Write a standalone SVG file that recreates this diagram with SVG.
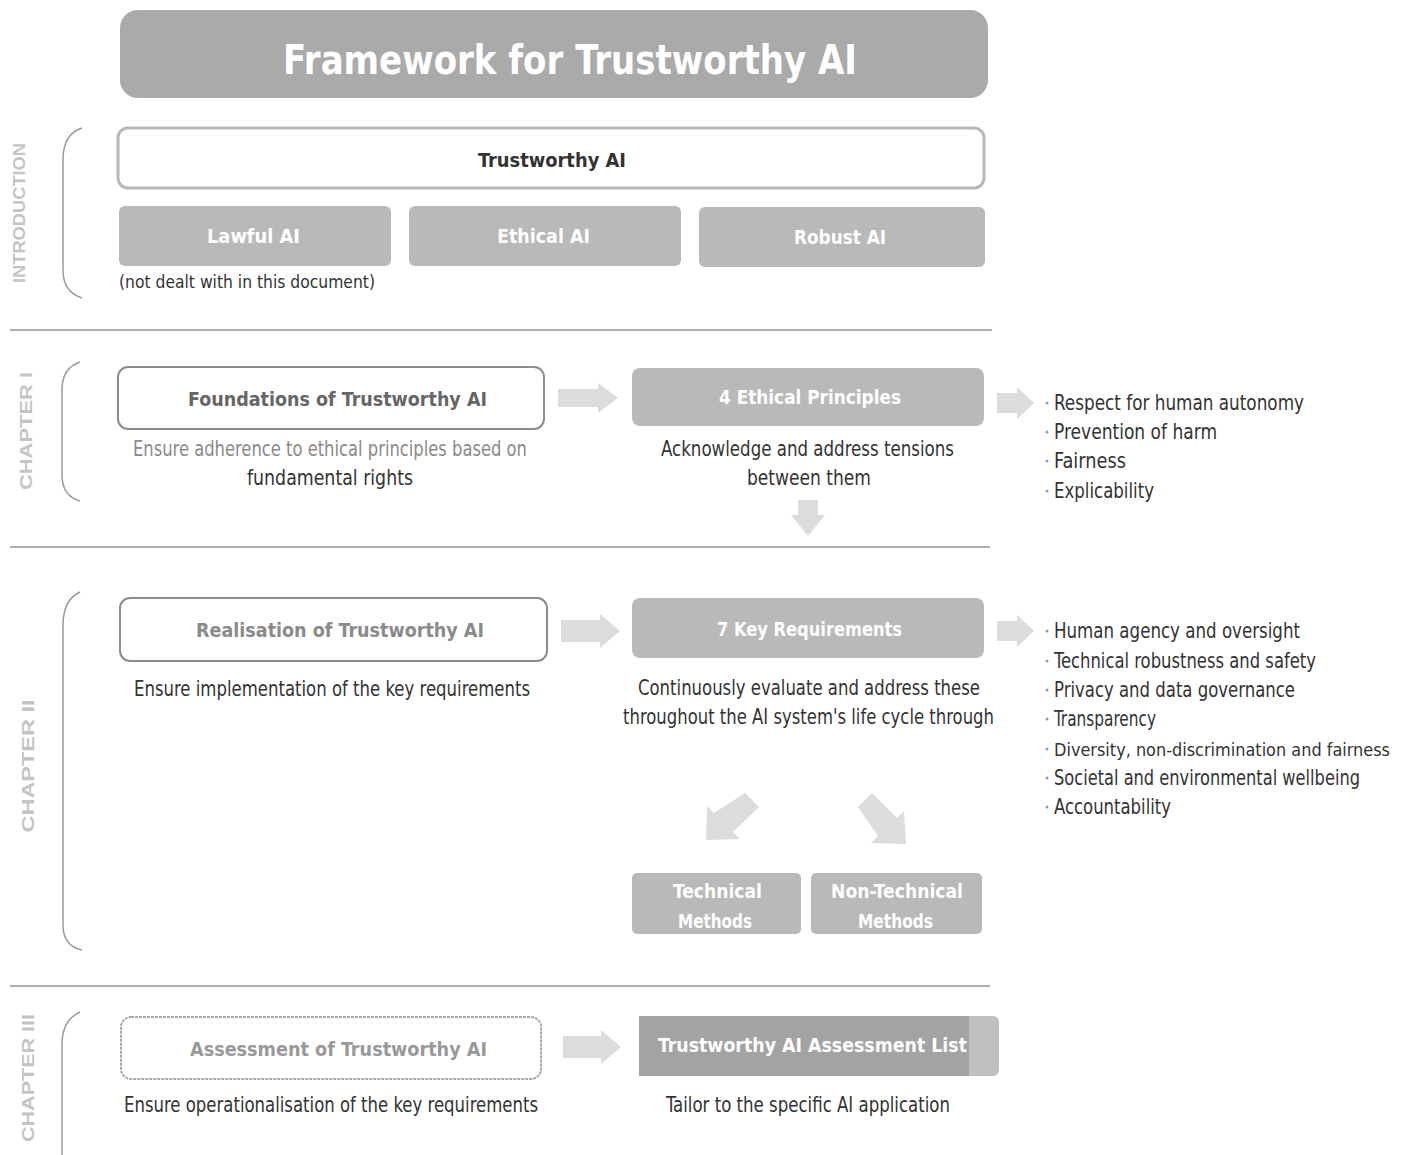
<svg xmlns="http://www.w3.org/2000/svg" width="1413" height="1155" viewBox="0 0 1413 1155">
<defs>
<style>
text{font-family:"Liberation Sans Narrow","DejaVu Sans Condensed","Liberation Sans",sans-serif;font-stretch:condensed}
.title{font-size:40px;font-weight:bold;fill:#fff}
.hdr{font-size:20px;font-weight:bold}
.wt{fill:#fff}
.dk{fill:#333}
.gr{fill:#8a8a8a}
.body{font-size:21px}
.li{font-size:21px;fill:#333}
.side{font-size:16px;font-weight:bold;fill:#c4c4c4;font-family:"Liberation Sans","DejaVu Sans",sans-serif;font-stretch:normal}
.gbox{fill:#b9b9b9}
.wbox{fill:#fff;stroke:#8c8c8c;stroke-width:2}
.arr{fill:#dcdcdc}
.sep{stroke:#b0b0b0;stroke-width:2;fill:none}
.brk{stroke:#9a9a9a;stroke-width:1.5;fill:none}
.dot{fill:#9a9a9a}
</style>
</defs>

<g id="title">
<rect x="120" y="10" width="868" height="88" rx="18" fill="#aaaaaa"/>
<text class="title" x="283" y="74" textLength="574" lengthAdjust="spacingAndGlyphs">Framework for Trustworthy AI</text>
</g>

<g id="separators">
<line class="sep" x1="10" y1="330" x2="992" y2="330"/>
<line class="sep" x1="10" y1="547" x2="990" y2="547"/>
<line class="sep" x1="10" y1="986" x2="990" y2="986"/>
</g>

<g id="sections">
<path class="brk" d="M82 128 Q63 134 63 160 L63 270 Q63 292 82 298"/>
<text class="side" transform="translate(25,213) rotate(-90)" text-anchor="middle" textLength="140" lengthAdjust="spacingAndGlyphs">INTRODUCTION</text>
<path class="brk" d="M80 362 Q62 368 62 390 L62 475 Q62 496 80 501"/>
<text class="side" transform="translate(32,431) rotate(-90)" text-anchor="middle" textLength="118" lengthAdjust="spacingAndGlyphs">CHAPTER I</text>
<path class="brk" d="M80 592 Q63 600 63 625 L63 925 Q63 946 82 950"/>
<text class="side" transform="translate(34,766) rotate(-90)" text-anchor="middle" textLength="133" lengthAdjust="spacingAndGlyphs">CHAPTER II</text>
<path class="brk" d="M80 1012 Q62 1020 62 1045 L62 1155"/>
<text class="side" transform="translate(34,1078) rotate(-90)" text-anchor="middle" textLength="128" lengthAdjust="spacingAndGlyphs">CHAPTER III</text>
</g>

<g id="trustworthy-ai">
<rect x="118" y="128" width="866" height="60" rx="10" fill="#fff" stroke="#b8b8b8" stroke-width="3"/>
<text class="hdr dk" x="478" y="167" textLength="148" lengthAdjust="spacingAndGlyphs">Trustworthy  AI</text>
</g>
<g id="lawful-ai">
<rect class="gbox" x="119" y="206" width="272" height="60" rx="6"/>
<text class="hdr wt" x="207" y="243" textLength="93" lengthAdjust="spacingAndGlyphs">Lawful AI</text>
<text class="dk" x="119" y="288" font-size="17" textLength="256" lengthAdjust="spacingAndGlyphs">(not dealt with in this document)</text>
</g>
<g id="ethical-ai">
<rect class="gbox" x="409" y="206" width="272" height="60" rx="6"/>
<text class="hdr wt" x="497" y="243" textLength="93" lengthAdjust="spacingAndGlyphs">Ethical AI</text>
</g>
<g id="robust-ai">
<rect class="gbox" x="699" y="207" width="286" height="60" rx="6"/>
<text class="hdr wt" x="794" y="244" textLength="92" lengthAdjust="spacingAndGlyphs">Robust AI</text>
</g>

<g id="foundations">
<rect class="wbox" x="118" y="367" width="426" height="62" rx="10"/>
<text class="hdr" fill="#666" x="188" y="406" textLength="299" lengthAdjust="spacingAndGlyphs">Foundations  of Trustworthy  AI</text>
<text class="body gr" x="133" y="456" textLength="394" lengthAdjust="spacingAndGlyphs">Ensure adherence to ethical principles based on</text>
<text class="body dk" x="247" y="485" textLength="166" lengthAdjust="spacingAndGlyphs">fundamental rights</text>
</g>
<g id="ethical-principles">
<rect class="gbox" x="632" y="368" width="352" height="58" rx="8"/>
<text class="hdr wt" x="719" y="404" textLength="182" lengthAdjust="spacingAndGlyphs">4 Ethical  Principles</text>
<text class="body dk" x="661" y="456" textLength="293" lengthAdjust="spacingAndGlyphs">Acknowledge and address tensions</text>
<text class="body dk" x="747" y="485" textLength="124" lengthAdjust="spacingAndGlyphs">between them</text>
</g>
<g id="principles-list">
<circle class="dot" cx="1047" cy="403" r="1.5"/>
<text class="li" x="1054" y="410" textLength="250" lengthAdjust="spacingAndGlyphs">Respect for human autonomy</text>
<circle class="dot" cx="1047" cy="432" r="1.5"/>
<text class="li" x="1054" y="439" textLength="163" lengthAdjust="spacingAndGlyphs">Prevention of harm</text>
<circle class="dot" cx="1047" cy="461" r="1.5"/>
<text class="li" x="1054" y="468" textLength="72" lengthAdjust="spacingAndGlyphs">Fairness</text>
<circle class="dot" cx="1047" cy="491" r="1.5"/>
<text class="li" x="1054" y="498" textLength="100" lengthAdjust="spacingAndGlyphs">Explicability</text>
</g>

<g id="realisation">
<rect class="wbox" x="120" y="598" width="427" height="63" rx="10"/>
<text class="hdr gr" x="196" y="637" textLength="288" lengthAdjust="spacingAndGlyphs">Realisation  of Trustworthy  AI</text>
<text class="body dk" x="134" y="696" textLength="396" lengthAdjust="spacingAndGlyphs">Ensure implementation of the key requirements</text>
</g>
<g id="key-requirements">
<rect class="gbox" x="632" y="598" width="352" height="60" rx="8"/>
<text class="hdr wt" x="717" y="636" textLength="185" lengthAdjust="spacingAndGlyphs">7 Key Requirements</text>
<text class="body dk" x="638" y="695" textLength="342" lengthAdjust="spacingAndGlyphs">Continuously evaluate and address these</text>
<text class="body dk" x="623" y="724" textLength="371" lengthAdjust="spacingAndGlyphs">throughout the AI system's life cycle through</text>
</g>
<g id="requirements-list">
<circle class="dot" cx="1047" cy="631" r="1.5"/>
<text class="li" x="1054" y="638" textLength="246" lengthAdjust="spacingAndGlyphs">Human agency and oversight</text>
<circle class="dot" cx="1047" cy="661" r="1.5"/>
<text class="li" x="1054" y="668" textLength="262" lengthAdjust="spacingAndGlyphs">Technical robustness and safety</text>
<circle class="dot" cx="1047" cy="690" r="1.5"/>
<text class="li" x="1054" y="697" textLength="241" lengthAdjust="spacingAndGlyphs">Privacy and data governance</text>
<circle class="dot" cx="1047" cy="719" r="1.5"/>
<text class="li" x="1054" y="726" textLength="102" lengthAdjust="spacingAndGlyphs">Transparency</text>
<circle class="dot" cx="1047" cy="749" r="1.5"/>
<text class="li" x="1054" y="756" style="font-size:18px" textLength="336" lengthAdjust="spacingAndGlyphs">Diversity, non-discrimination and fairness</text>
<circle class="dot" cx="1047" cy="778" r="1.5"/>
<text class="li" x="1054" y="785" textLength="306" lengthAdjust="spacingAndGlyphs">Societal and environmental wellbeing</text>
<circle class="dot" cx="1047" cy="807" r="1.5"/>
<text class="li" x="1054" y="814" textLength="117" lengthAdjust="spacingAndGlyphs">Accountability</text>
</g>
<g id="technical-methods">
<rect class="gbox" x="632" y="873" width="169" height="61" rx="5"/>
<text class="hdr wt" x="673" y="898" textLength="89" lengthAdjust="spacingAndGlyphs">Technical</text>
<text class="hdr wt" x="678" y="928" textLength="74" lengthAdjust="spacingAndGlyphs">Methods</text>
</g>
<g id="non-technical-methods">
<rect class="gbox" x="811" y="873" width="171" height="61" rx="5"/>
<text class="hdr wt" x="831" y="898" textLength="132" lengthAdjust="spacingAndGlyphs">Non-Technical</text>
<text class="hdr wt" x="858" y="928" textLength="75" lengthAdjust="spacingAndGlyphs">Methods</text>
</g>

<g id="assessment">
<rect x="121" y="1017" width="420" height="62" rx="10" fill="#fff" stroke="#a8a8a8" stroke-width="2" stroke-dasharray="3 1"/>
<text class="hdr" fill="#999" x="190" y="1056" textLength="297" lengthAdjust="spacingAndGlyphs">Assessment  of Trustworthy  AI</text>
<text class="body dk" x="124" y="1112" textLength="414" lengthAdjust="spacingAndGlyphs">Ensure operationalisation of the key requirements</text>
</g>
<g id="assessment-list">
<rect x="639" y="1016" width="360" height="60" rx="6" fill="#c0c0c0"/>
<rect x="639" y="1016" width="330" height="60" fill="#a3a3a3"/>
<text class="hdr wt" x="658" y="1052" textLength="309" lengthAdjust="spacingAndGlyphs">Trustworthy AI Assessment List</text>
<text class="body dk" x="666" y="1112" textLength="284" lengthAdjust="spacingAndGlyphs">Tailor to the specific AI application</text>
</g>

<g id="connectors">
<path class="arr" d="M558 389 L598 389 L598 383 L618 398 L598 413 L598 407 L558 407 Z"/>
<path class="arr" d="M997 393 L1017 393 L1017 387 L1034 403 L1017 419 L1017 413 L997 413 Z"/>
<path class="arr" d="M798 500 L818 500 L818 515 L825 515 L808 536 L791 515 L798 515 Z"/>
<path class="arr" d="M561 620 L600 620 L600 614 L620 631 L600 648 L600 642 L561 642 Z"/>
<path class="arr" d="M997 621 L1017 621 L1017 615 L1034 631 L1017 647 L1017 641 L997 641 Z"/>
<path class="arr" d="M745 793 L759 807 L733 832 L740 839 L706 840 L707 806 L714 813 Z"/>
<path class="arr" d="M858 807 L872 793 L897 818 L904 811 L906 844 L871 843 L878 836 Z"/>
<path class="arr" d="M563 1036 L601 1036 L601 1030 L621 1047 L601 1064 L601 1058 L563 1058 Z"/>
</g>
</svg>
